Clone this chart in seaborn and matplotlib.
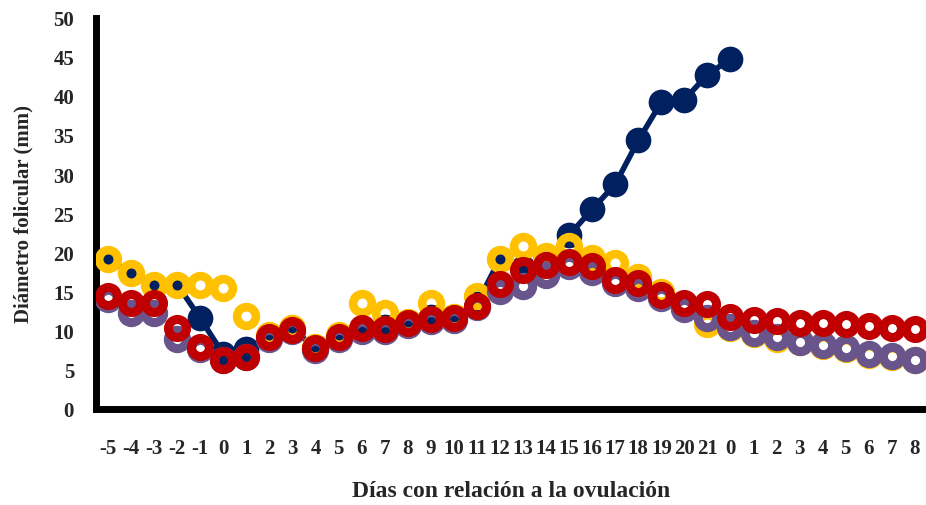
import matplotlib
matplotlib.use("Agg")
import matplotlib.pyplot as plt
import seaborn as sns
import numpy as np
import pandas as pd

labels = ['-5', '-4', '-3', '-2', '-1', '0'] + [str(i) for i in range(1, 22)] + [str(i) for i in range(0, 9)]

navy = [19.1, 17.4, 15.9, 15.9, 11.6, 7.0, 7.6, 9.3, 10.2, 7.8, 9.3, 10.3, 10.5, 11.0,
        11.8, 11.7, 13.4, 19.2, 18.0, 18.5, 22.2, 25.5, 28.7, 34.3, 39.2, 39.5, 42.7, 44.7]

yellow = [19.1, 17.4, 15.9, 15.9, 15.9, 15.4, 11.9, 9.4, 10.3, 7.9, 9.4, 13.6, 12.3, 11.1,
          13.6, 11.8, 14.4, 19.1, 20.8, 19.6, 20.8, 19.3, 18.6, 16.9, 15.0, 13.0, 10.9,
          10.3, 9.6, 9.0, 8.5, 8.1, 7.6, 6.9, 6.6, 6.2]

purple = [14.0, 12.2, 12.2, 9.0, 7.7, 6.2, 6.6, 9.0, 9.9, 7.5, 9.0, 10.0, 10.0, 10.7,
          11.3, 11.4, 13.0, 15.1, 15.7, 17.1, 18.3, 17.5, 16.1, 15.5, 14.2, 12.8, 11.6,
          10.5, 9.7, 9.2, 8.6, 8.2, 7.8, 7.0, 6.8, 6.3]

red = [14.4, 13.5, 13.5, 10.3, 7.9, 6.3, 6.7, 9.2, 10.1, 7.8, 9.2, 10.4, 10.2, 11.0,
       11.5, 11.6, 13.2, 16.0, 17.8, 18.4, 18.8, 18.2, 16.5, 16.1, 14.6, 13.5, 13.4,
       11.8, 11.4, 11.2, 11.0, 11.0, 10.8, 10.6, 10.3, 10.2]

yticks = [0, 5, 10, 15, 20, 25, 30, 35, 40, 45, 50]

sns.set_style("white")
plt.rcParams['font.family'] = ['Liberation Serif', 'DejaVu Serif']
plt.rcParams['font.weight'] = 'bold'

fig = plt.figure(figsize=(9.26, 5.06), dpi=100)
ax = fig.add_axes([96.3 / 926, 1 - 410 / 506, (926 - 96.3) / 926, 391.5 / 506])

pos = np.arange(len(labels))
df_navy = pd.DataFrame({'x': pos[:len(navy)], 'y': navy})
df_y = pd.DataFrame({'x': pos, 'y': yellow})
df_p = pd.DataFrame({'x': pos, 'y': purple})
df_r = pd.DataFrame({'x': pos, 'y': red})

sns.lineplot(data=df_navy, x='x', y='y', ax=ax, color='#002060', linewidth=4.0,
             marker='o', markersize=18.5, markeredgewidth=0, markerfacecolor='#002060',
             zorder=2, sort=False)
sns.lineplot(data=df_y, x='x', y='y', ax=ax, color='#FFC000', linestyle='none',
             marker='o', markersize=13.5, markeredgewidth=6.2, markerfacecolor='none',
             markeredgecolor='#FFC000', zorder=3, sort=False)
sns.lineplot(data=df_p, x='x', y='y', ax=ax, color='#69558C', linestyle='none',
             marker='o', markersize=13.2, markeredgewidth=6.5, markerfacecolor='none',
             markeredgecolor='#69558C', zorder=4, sort=False)
sns.lineplot(data=df_r, x='x', y='y', ax=ax, color='#C00000', linestyle='none',
             marker='o', markersize=13.0, markeredgewidth=6.5, markerfacecolor='none',
             markeredgecolor='#C00000', zorder=5, sort=False)

ax.set_xlim(-0.507, 35.48)
ax.set_ylim(0, 50)
ax.set_xticks(pos)
ax.set_xticklabels(labels)
ax.set_yticks(yticks)
ax.set_yticklabels([str(v) for v in yticks])

for s in ['top', 'right']:
    ax.spines[s].set_visible(False)
for s in ['left', 'bottom']:
    ax.spines[s].set_linewidth(5)
    ax.spines[s].set_color('black')
    ax.spines[s].set_capstyle('projecting')

ax.tick_params(axis='both', which='major', direction='out', length=4, width=3,
               color='black', labelsize=15)
ax.tick_params(axis='x', pad=17)
ax.tick_params(axis='y', pad=12)
for t in ax.get_xticklabels() + ax.get_yticklabels():
    t.set_fontweight('bold')

ax.set_xlabel('Días con relación a la ovulación', fontsize=17, fontweight='bold', labelpad=16)
ax.set_ylabel('Diámetro folicular (mm)', fontsize=15, fontweight='bold', labelpad=14)
if ax.get_legend() is not None:
    ax.get_legend().remove()

fig.savefig('out.png', dpi=100)
